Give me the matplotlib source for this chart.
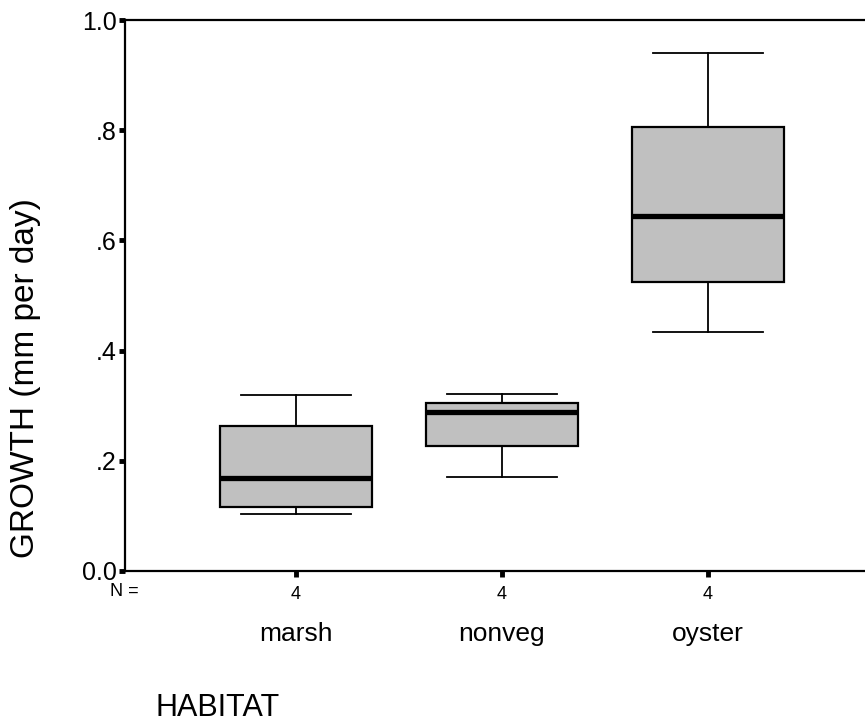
import matplotlib
matplotlib.use("Agg")
import matplotlib.pyplot as plt
from matplotlib.transforms import blended_transform_factory

# data
habitats = ["marsh", "nonveg", "oyster"]
n_counts = [4, 4, 4]
whisk_lo = [0.103, 0.171, 0.434]
q1 = [0.116, 0.227, 0.525]
medians = [0.169, 0.289, 0.644]
q3 = [0.263, 0.305, 0.806]
whisk_hi = [0.319, 0.321, 0.940]

yticks = [0.0, 0.2, 0.4, 0.6, 0.8, 1.0]
ytick_labels = ["0.0", ".2", ".4", ".6", ".8", "1.0"]

plt.rcParams["font.family"] = ["Liberation Sans", "DejaVu Sans"]

fig = plt.figure(figsize=(8.65, 7.27), dpi=100)
ax = fig.add_axes([125 / 865, 1 - 571 / 727, (879 - 125) / 865, (571 - 20) / 727])

stats = []
for i in range(len(habitats)):
    stats.append({
        "whislo": whisk_lo[i], "q1": q1[i], "med": medians[i],
        "q3": q3[i], "whishi": whisk_hi[i], "fliers": [],
    })

pos = list(range(1, len(habitats) + 1))
ax.bxp(
    stats, positions=pos, widths=0.74, patch_artist=True,
    showfliers=False,
    boxprops=dict(facecolor="#c0c0c0", edgecolor="black", linewidth=1.6),
    medianprops=dict(color="black", linewidth=3.8, solid_capstyle="butt"),
    whiskerprops=dict(color="black", linewidth=1.3),
    capprops=dict(color="black", linewidth=1.3),
    capwidths=0.53,
)

ax.set_xlim(0.17, 3.83)
ax.set_ylim(0, 1.0)
ax.set_yticks(yticks)
ax.set_yticklabels(ytick_labels, fontsize=18)
ax.set_xticks(pos)
ax.set_xticklabels([str(n) for n in n_counts], fontsize=13)

ax.tick_params(axis="y", direction="out", length=4, width=3.5, pad=2)
ax.tick_params(axis="x", direction="out", length=4, width=3.5, pad=7)
for side in ["left", "bottom", "top", "right"]:
    ax.spines[side].set_linewidth(1.6)

# N= row marker, under the y axis
fig.text(110 / 865, 1 - 592 / 727, "N =", ha="left", va="center", fontsize=13)

trans = blended_transform_factory(ax.transData, fig.transFigure)
for p, name in zip(pos, habitats):
    ax.text(p, 1 - 634 / 727, name, transform=trans, ha="center", va="center",
            fontsize=19)

fig.text(26 / 865, 1 - 378 / 727, "GROWTH (mm per day)", rotation=90,
         ha="center", va="center", fontsize=24)
fig.text(155 / 865, 1 - 708 / 727, "HABITAT", ha="left", va="center",
         fontsize=22)

fig.savefig("out.png", dpi=100)
